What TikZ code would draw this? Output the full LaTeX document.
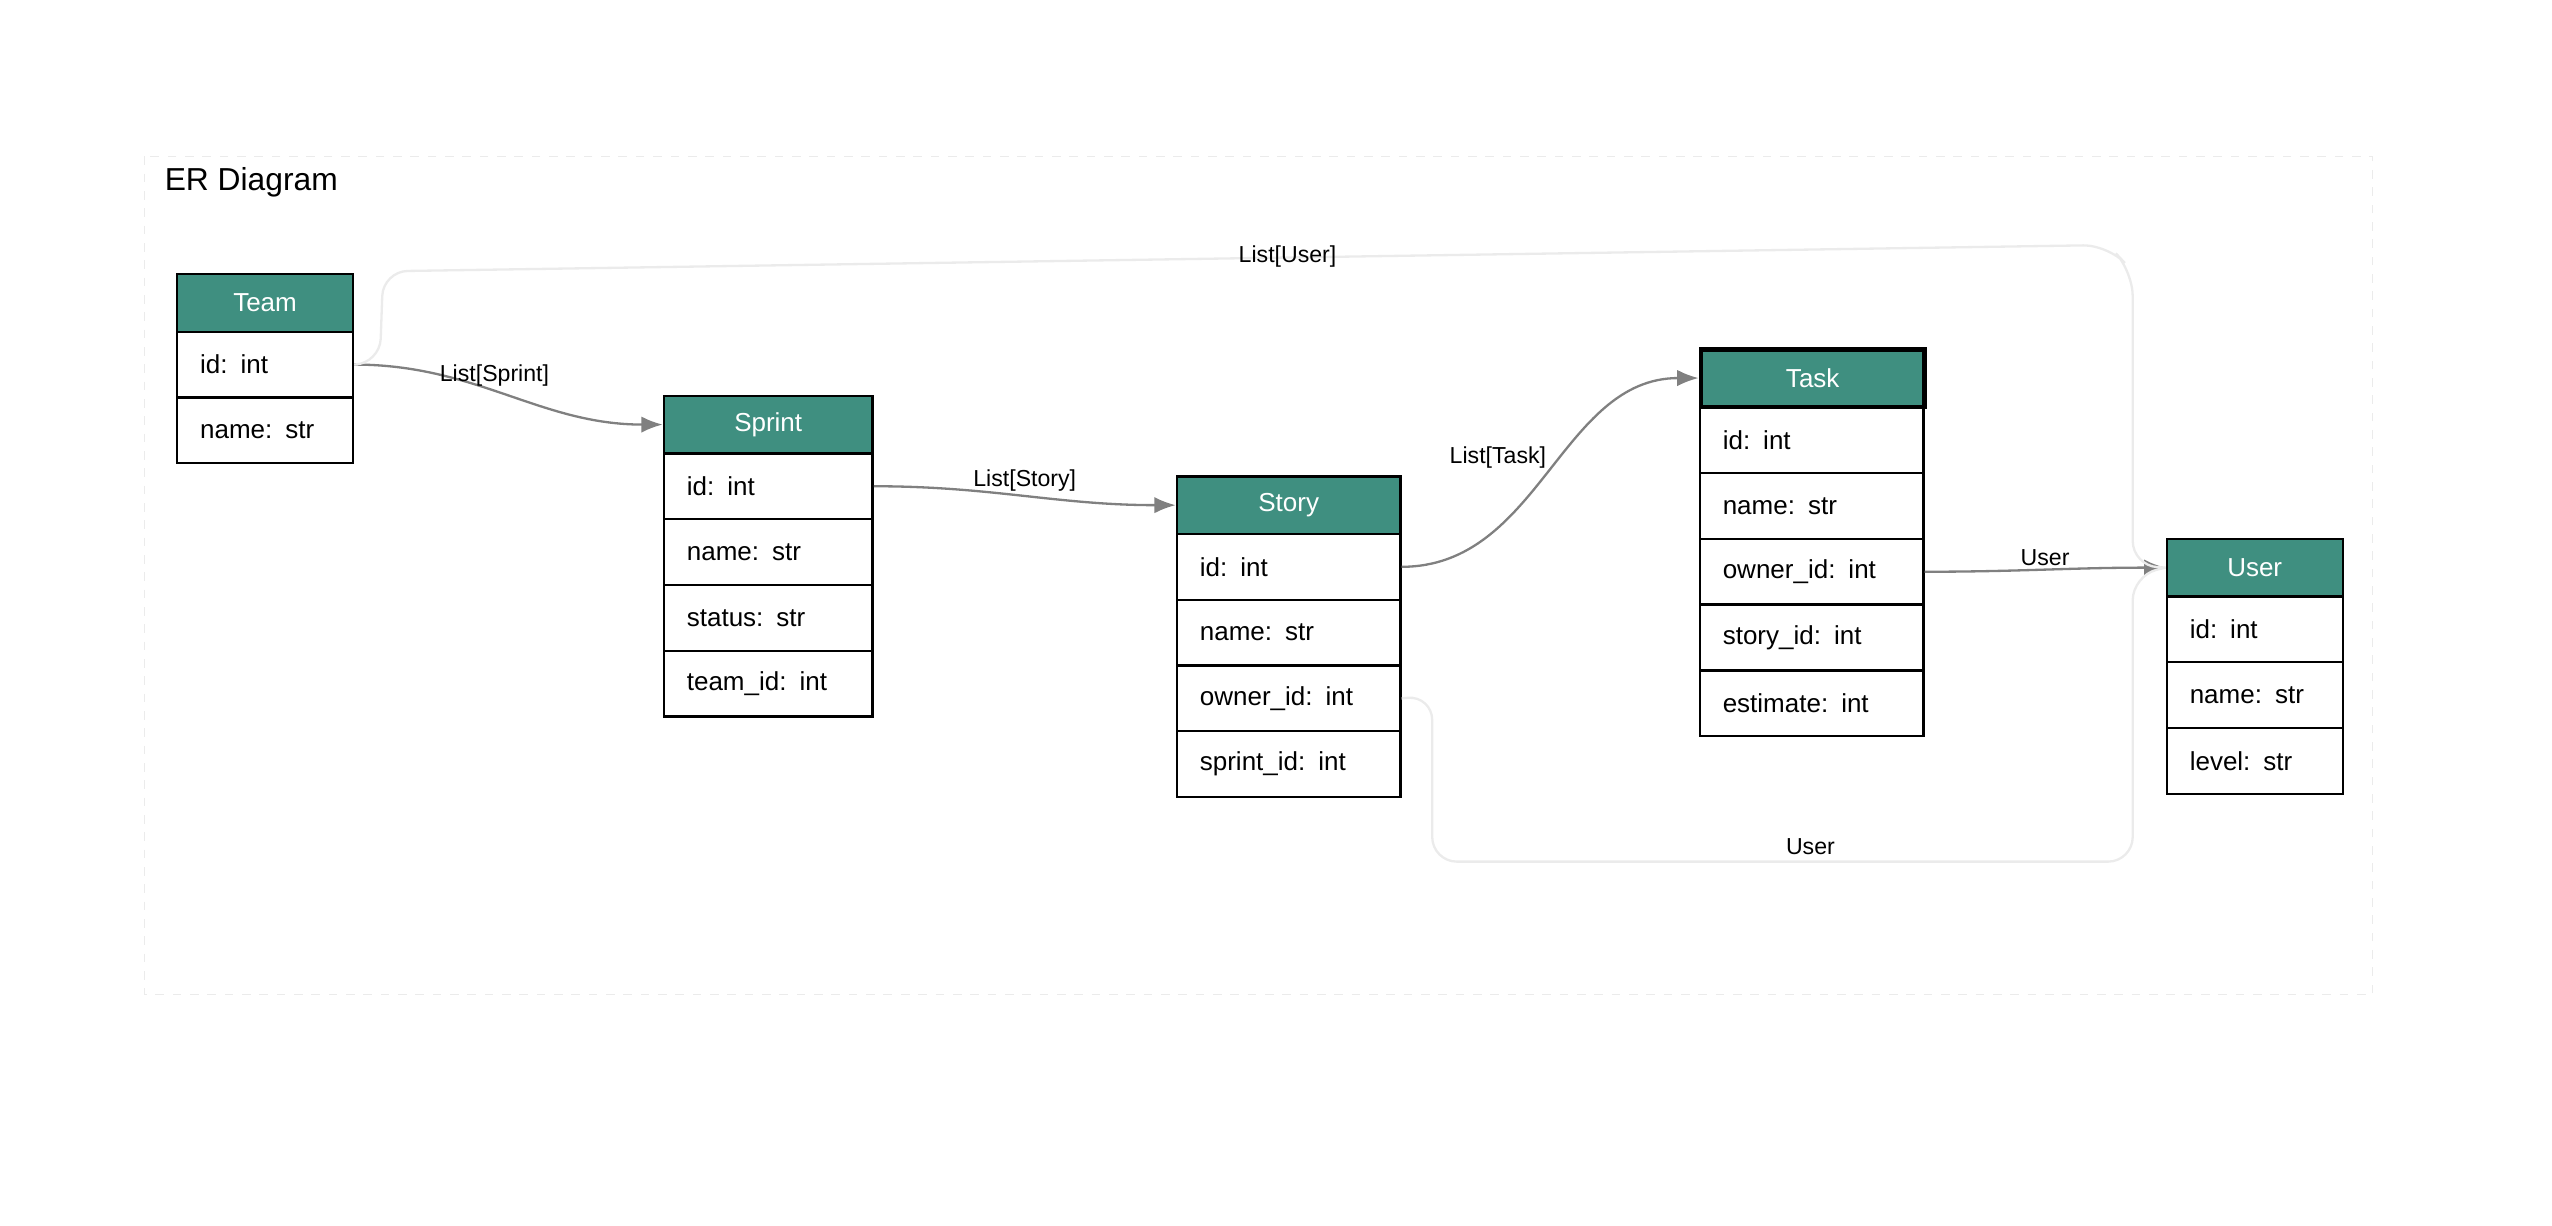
\documentclass[tikz,border=0pt]{standalone}
\usepackage{fontspec}
\setmainfont{Liberation Sans}
\usetikzlibrary{arrows.meta}
\definecolor{headteal}{HTML}{3F8F80}
\tikzset{
  head/.style={draw, thick, fill=headteal, text=white, anchor=north west, minimum height=0.7cm,
    inner xsep=0.28cm, inner ysep=0, text width=#1, align=center, font=\fontsize{9}{11}\selectfont},
  row/.style={draw, thick, anchor=north west, minimum height=0.8cm, inner xsep=0.28cm,
    inner ysep=0, text width=#1, align=left, font=\fontsize{9}{11}\selectfont},
  rel/.style={draw=gray, thick, -{Latex[length=2.6mm,width=2mm]}},
  faint/.style={draw=black!8, thick, rounded corners=0.3cm},
  lbl/.style={font=\fontsize{8}{10}\selectfont, inner sep=1pt}
}
\begin{document}
\begin{tikzpicture}[x=0.02cm, y=-0.02cm]
\useasboundingbox (0,0) rectangle (1552,745);
\draw[black!8, dashed] (88,95) rectangle (1443,605);
\node[anchor=west, font=\fontsize{11}{13}\selectfont] (title) at (94,111) {ER Diagram};

% entities
\node[head=1.58cm] (team) at (107,166) {Team};
\foreach \f [count=\i] in {id: int, name: str}
  \node[row=1.58cm] (team-\i) at (107,{166+35+40*(\i-1)}) {\f};
\node[head=1.98cm] (sprint) at (403,240) {Sprint};
\foreach \f [count=\i] in {id: int, name: str, status: str, team\_id: int}
  \node[row=1.98cm] (sprint-\i) at (403,{240+35+40*(\i-1)}) {\f};
\node[head=2.16cm] (story) at (715,289) {Story};
\foreach \f [count=\i] in {id: int, name: str, owner\_id: int, sprint\_id: int}
  \node[row=2.16cm] (story-\i) at (715,{289+35+40*(\i-1)}) {\f};
\node[head=2.16cm, ultra thick] (task) at (1033,211) {Task};
\foreach \f [count=\i] in {id: int, name: str, owner\_id: int, story\_id: int, estimate: int}
  \node[row=2.16cm] (task-\i) at (1033,{211+36+40*(\i-1)}) {\f};
\node[head=1.58cm] (user) at (1317,327) {User};
\foreach \f [count=\i] in {id: int, name: str, level: str}
  \node[row=1.58cm] (user-\i) at (1317,{327+35+40*(\i-1)}) {\f};

% relations
\draw[rel] (team-1.east) to[out=0, in=180] node[lbl, pos=0.45, above] {List[Sprint]} (sprint.west);
\draw[rel] (sprint-1.east) to[out=0, in=180] node[lbl, pos=0.5, above] {List[Story]} (story.west);
\draw[rel] (story-1.east) to[out=0, in=180] node[lbl, pos=0.5, above left] {List[Task]} (task.west);
\draw[rel] (task-3.east) to[out=0, in=180] node[lbl, above] {User} (user.west);

\draw[faint] (team-1.east) -- (231,221) -- (233,165) -- (1282,149) -- (1297,165) -- (1297,344) -- (user.west);
\node[lbl] (lbl-teamuser) at (783,156) {List[User]};
\draw[faint] (story-3.east) -- (871,423) -- (871,524) -- (1297,524) -- (1297,350) -- (user.west);
\node[lbl] (lbl-storyuser) at (1101,515) {User};
\end{tikzpicture}
\end{document}
